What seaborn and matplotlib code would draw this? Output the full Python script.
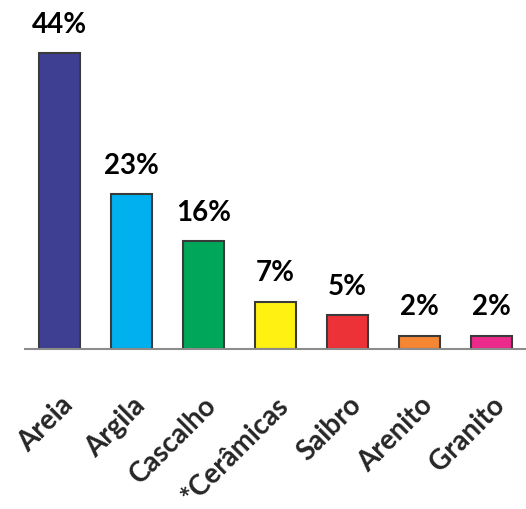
import matplotlib
matplotlib.use("Agg")
import matplotlib.pyplot as plt
import seaborn as sns
import pandas as pd

# Data
categorias = ["Areia", "Argila", "Cascalho", "*Cerâmicas", "Saibro", "Arenito", "Granito"]
valores = [44, 23, 16, 7, 5, 2, 2]
cores = ["#3E3F92", "#00B0EF", "#00A65A", "#FFF212", "#EC3237", "#F58634", "#EC2A8C"]

df = pd.DataFrame({"material": categorias, "pct": valores})

sns.set_style("white")
plt.rcParams['font.family'] = ['Lato', 'DejaVu Sans']

fig = plt.figure(figsize=(5.26, 5.09), dpi=100)
ax = fig.add_axes([25 / 526, 160 / 509, 501 / 526, 349 / 509])

sns.barplot(
    data=df,
    x="material",
    y="pct",
    hue="material",
    palette=cores,
    saturation=1,
    width=0.58,
    edgecolor="#3a3a3a",
    linewidth=1.5,
    legend=False,
    ax=ax
)

# Value labels
for i, v in enumerate(valores):
    ax.text(i, v + 2.3, f"{v}%", ha="center", va="bottom",
            fontsize=20, fontweight="bold", color="black")

ax.set_xlim(-0.48, 6.48)
ax.set_ylim(0, 51.9)
ax.set_xlabel("")
ax.set_ylabel("")
ax.set_yticks([])
ax.set_xticks(range(len(categorias)))
ax.set_xticklabels(categorias, rotation=45, ha="right", rotation_mode="anchor",
                   fontsize=20, fontweight="bold")
ax.tick_params(axis="x", length=0, pad=31)

for s in ["top", "right", "left"]:
    ax.spines[s].set_visible(False)
ax.spines["bottom"].set_color("#8c8c8c")
ax.spines["bottom"].set_linewidth(1.5)

plt.savefig("out.png", dpi=100)
